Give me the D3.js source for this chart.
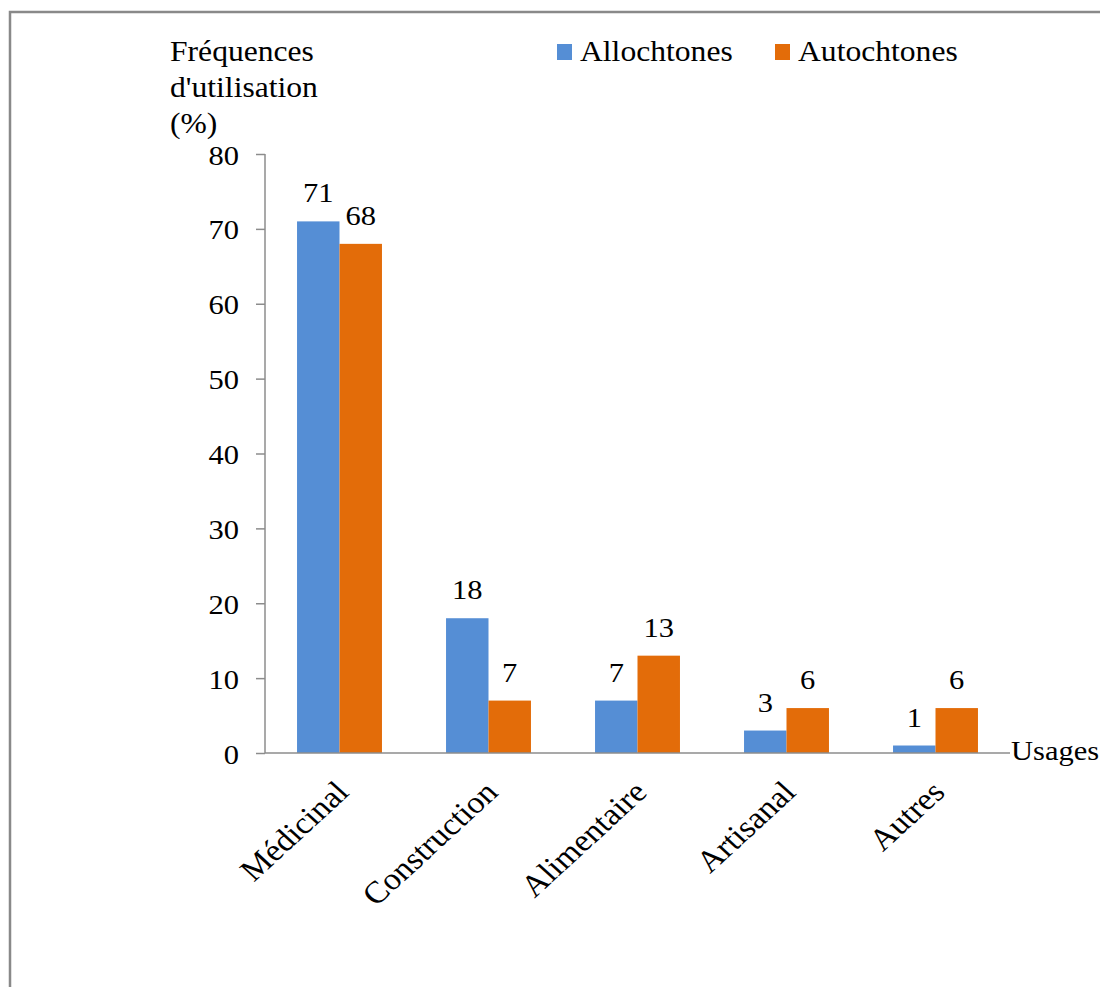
<!DOCTYPE html>
<html>
<head>
<meta charset="utf-8">
<script src="https://cdn.jsdelivr.net/npm/d3@7"></script>
<style>
  body { margin: 0; background: #fff; }
  text { font-family: "Liberation Serif", "Times New Roman", serif; fill: #000; }
</style>
</head>
<body>
<svg id="chart" width="1100" height="987"></svg>
<script>
// data
const usages = ["Médicinal", "Construction", "Alimentaire", "Artisanal", "Autres"];
const series = ["Allochtones", "Autochtones"];
const allochtones = [71, 18, 7, 3, 1];
const autochtones = [68, 7, 13, 6, 6];
const yTicks = [0, 10, 20, 30, 40, 50, 60, 70, 80];
const colors = ["#558ED5", "#E36C09"];

const svg = d3.select("#chart");
const fs = 28;
const sx = 1.09;  // the original text is a bit wider than it is tall

// place a text at (px,py) with the horizontal stretch
function at(px, py, rot) {
  return "translate(" + px + "," + py + ") scale(" + sx + ",1)" + (rot ? " rotate(" + rot + ")" : "");
}

// frame round the chart
svg.append("rect")
  .attr("x", 10).attr("y", 12)
  .attr("width", 1200).attr("height", 1100)
  .attr("fill", "none")
  .attr("stroke", "#898989")
  .attr("stroke-width", 2.5);

const x0 = 265, x1 = 1010, yTop = 154, yBot = 753;

let x = d3.scaleBand().domain(usages).range([x0, x1]).paddingInner(0.43).paddingOuter(0.215);
let xs = d3.scaleBand().domain(series).range([0, x.bandwidth()]);
let y = d3.scaleLinear().domain([0, 80]).range([yBot, yTop]);

// y axis
let yAxis = svg.append("g")
  .attr("transform", "translate(" + x0 + ",0)")
  .call(d3.axisLeft(y).tickValues(yTicks).tickSize(9).tickPadding(18).tickFormat(d3.format("d")));
yAxis.selectAll("path, line").attr("stroke", "#8c8c8c").attr("stroke-width", 1.5);
yAxis.select("path").attr("d", "M0," + yTop + "V" + yBot);
yAxis.selectAll("text")
  .attr("font-size", fs)
  .attr("font-family", "Liberation Serif")
  .attr("fill", "#000")
  .attr("x", null).attr("dy", null)
  .attr("transform", at(-26, 10));

// bars
const rows = usages.map((u, i) => ({ usage: u, values: [allochtones[i], autochtones[i]] }));

let groups = svg.selectAll("g.cat")
  .data(rows)
  .enter().append("g")
  .attr("class", "cat")
  .attr("transform", d => "translate(" + x(d.usage) + ",0)");

groups.selectAll("rect")
  .data(d => d.values.map((v, j) => ({ s: series[j], v: v, j: j })))
  .enter().append("rect")
  .attr("x", d => xs(d.s))
  .attr("y", d => y(d.v))
  .attr("width", xs.bandwidth())
  .attr("height", d => y(0) - y(d.v))
  .attr("fill", d => colors[d.j]);

groups.selectAll("text.val")
  .data(d => d.values.map((v, j) => ({ s: series[j], v: v })))
  .enter().append("text")
  .attr("class", "val")
  .attr("transform", d => at(xs(d.s) + xs.bandwidth() / 2, y(d.v) - 19))
  .attr("text-anchor", "middle")
  .attr("font-size", fs)
  .text(d => d.v);

// x axis line (drawn after bars, like the original)
svg.append("line")
  .attr("x1", x0).attr("x2", x1)
  .attr("y1", yBot).attr("y2", yBot)
  .attr("stroke", "#8c8c8c")
  .attr("stroke-width", 1.5);

// rotated category labels
svg.selectAll("text.cat")
  .data(usages)
  .enter().append("text")
  .attr("class", "cat")
  .attr("text-anchor", "end")
  .attr("font-size", 31)
  .attr("transform", d => at(x(d) + x.bandwidth() / 2 + 11, 794, -45))
  .text(d => d);

svg.append("text")
  .attr("transform", at(1011, 760))
  .attr("font-size", fs)
  .text("Usages");

// y title, three lines
const yTitle = ["Fréquences", "d'utilisation", "(%)"];
svg.selectAll("text.ytitle")
  .data(yTitle)
  .enter().append("text")
  .attr("class", "ytitle")
  .attr("transform", (d, i) => at(170, 61 + i * 36))
  .attr("font-size", 29)
  .text(d => d);

// legend
const legX = [557, 775];
let leg = svg.selectAll("g.leg")
  .data(series)
  .enter().append("g")
  .attr("class", "leg")
  .attr("transform", (d, i) => "translate(" + legX[i] + ",0)");
leg.append("rect")
  .attr("x", 0).attr("y", 44)
  .attr("width", 15).attr("height", 16)
  .attr("fill", (d, i) => colors[i]);
leg.append("text")
  .attr("transform", at(23, 61))
  .attr("font-size", 29)
  .text(d => d);
</script>
</body>
</html>
